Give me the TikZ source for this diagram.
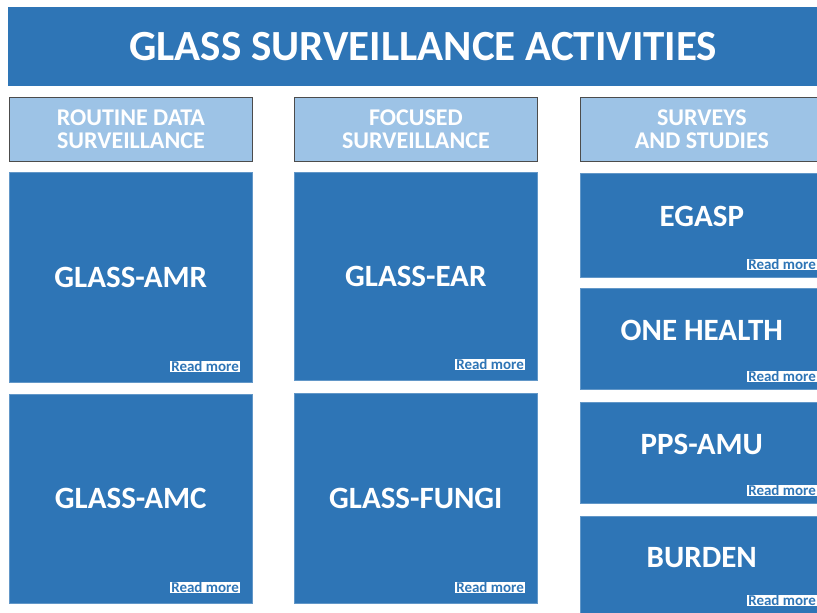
\documentclass[tikz,border=0pt]{standalone}
\usepackage{fontspec}
\setmainfont{Carlito}
\usepackage{tikz}
\usetikzlibrary{positioning}
\definecolor{glassblue}{HTML}{2E75B6}
\definecolor{headblue}{HTML}{9DC3E6}
\tikzstyle{banner} = [rectangle, fill=glassblue, text=white, anchor=north west,
    inner sep=0pt, minimum width=830pt, minimum height=79pt,
    font=\bfseries\fontsize{43}{45}\selectfont]
\tikzstyle{head} = [rectangle, draw=black!70, line width=0.8pt, fill=headblue, text=white,
    anchor=north west, inner sep=0pt, minimum width=243pt, minimum height=64pt,
    align=center, font=\bfseries\fontsize{24}{23}\selectfont]
\tikzstyle{tile} = [rectangle, draw=glassblue!75!white, line width=0.6pt, fill=glassblue,
    text=white, anchor=north west, inner sep=0pt, minimum width=243pt,
    font=\bfseries\fontsize{31}{33}\selectfont]
\tikzstyle{tiletext} = [text=white, font=\bfseries\fontsize{31}{33}\selectfont]
\tikzstyle{more} = [rectangle, fill=white, text=glassblue, anchor=south east,
    inner xsep=1.5pt, inner ysep=0.5pt, font=\bfseries\fontsize{15}{16}\selectfont]

\begin{document}
\begin{tikzpicture}[x=1pt, y=-1pt]
  \useasboundingbox (0,0) rectangle (817,613);
  % title
  \node [banner] (title) at (8,7) {GLASS SURVEILLANCE ACTIVITIES};
  % column heads
  \node [head] (routine) at (9,97) {ROUTINE DATA\\SURVEILLANCE};
  \node [head] (focused) at (294,97) {FOCUSED\\SURVEILLANCE};
  \node [head] (surveys) at (580,97) {SURVEYS\\AND STUDIES};
  % routine data
  \node [tile, minimum height=210pt] (amr) at (9,172) {GLASS-AMR};
  \node [tile, minimum height=209pt] (amc) at (9,394) {GLASS-AMC};
  % focused
  \node [tile, minimum height=208pt] (ear) at (294,172) {GLASS-EAR};
  \node [tile, minimum height=210pt] (fungi) at (294,393) {GLASS-FUNGI};
  % surveys and studies
  \node [tile, minimum height=104pt] (egasp) at (580,173) {};
  \node [tile, minimum height=101pt] (onehealth) at (580,288) {};
  \node [tile, minimum height=101pt] (ppsamu) at (580,402) {};
  \node [tile, minimum height=104pt] (burden) at (580,516) {};
  \node [tiletext] (egasptext) at ([yshift=9pt]egasp.center) {EGASP};
  \node [tiletext] (onehealthtext) at ([yshift=8pt]onehealth.center) {ONE HEALTH};
  \node [tiletext] (ppsamutext) at ([yshift=8pt]ppsamu.center) {PPS-AMU};
  \node [tiletext] (burdentext) at ([yshift=11pt]burden.center) {BURDEN};
  % read more links
  \node [more] (amrmore) at ([xshift=-12pt,yshift=10pt]amr.south east) {Read more};
  \node [more] (amcmore) at ([xshift=-12pt,yshift=10pt]amc.south east) {Read more};
  \node [more] (earmore) at ([xshift=-12pt,yshift=10pt]ear.south east) {Read more};
  \node [more] (fungimore) at ([xshift=-12pt,yshift=10pt]fungi.south east) {Read more};
  \node [more] (egaspmore) at ([xshift=-6pt,yshift=7pt]egasp.south east) {Read more};
  \node [more] (onehealthmore) at ([xshift=-6pt,yshift=7pt]onehealth.south east) {Read more};
  \node [more] (ppsamumore) at ([xshift=-6pt,yshift=7pt]ppsamu.south east) {Read more};
  \node [more] (burdenmore) at ([xshift=-6pt,yshift=14pt]burden.south east) {Read more};
\end{tikzpicture}
\end{document}
